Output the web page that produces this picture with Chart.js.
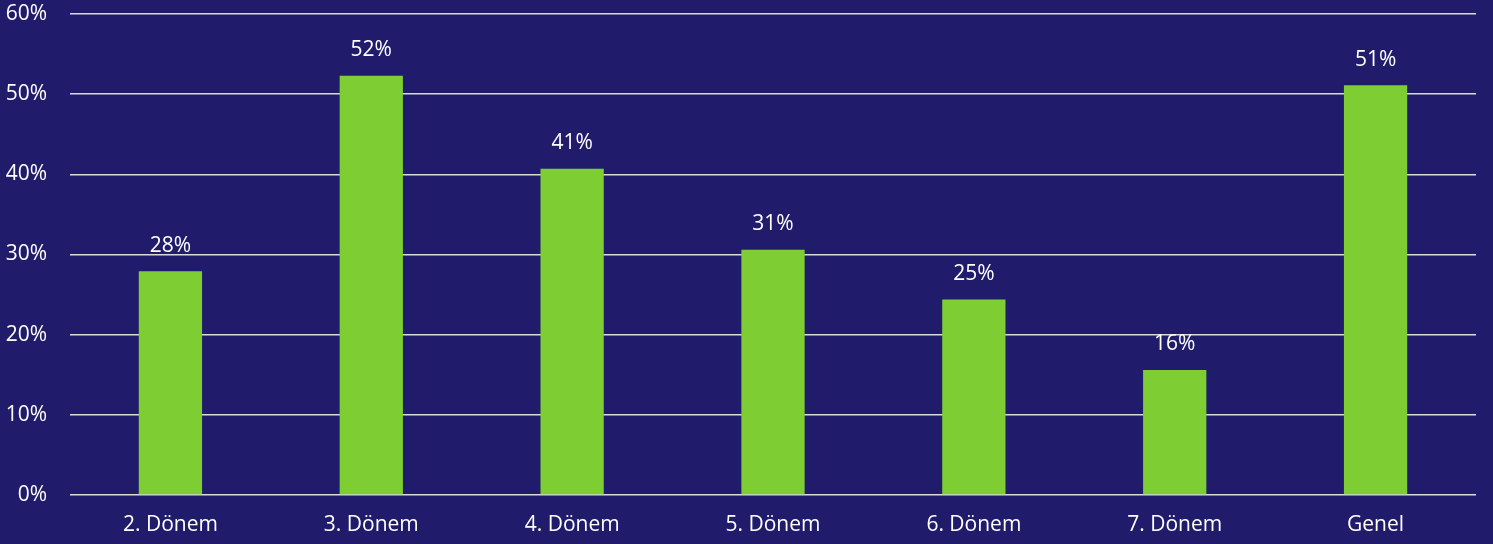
<!DOCTYPE html>
<html><head><meta charset="utf-8">
<script src="https://cdn.jsdelivr.net/npm/chart.js@4.4.1/dist/chart.umd.min.js"></script>
<style>html,body{margin:0;padding:0;background:#201c6b;}#wrap{width:1493px;height:544px;position:relative;}</style>
</head><body><div id="wrap"><canvas id="c" width="1493" height="544"></canvas></div>
<script>
const categories = ["2. Dönem","3. Dönem","4. Dönem","5. Dönem","6. Dönem","7. Dönem","Genel"];
const values = [27.9, 52.3, 40.7, 30.6, 24.4, 15.6, 51.1];
const valueLabels = ["28%","52%","41%","31%","25%","16%","51%"];
const yTicks = [0,10,20,30,40,50,60];

const FONT = "'Open Sans', sans-serif";
const labelPlugin = {
  id: 'vlabels',
  afterDatasetsDraw(chart) {
    const ctx = chart.ctx;
    const meta = chart.getDatasetMeta(0);
    ctx.save();
    ctx.fillStyle = '#ffffff';
    ctx.font = "21px " + FONT;
    ctx.textAlign = 'center';
    ctx.textBaseline = 'bottom';
    meta.data.forEach((bar, i) => {
      ctx.fillText(valueLabels[i], bar.x, bar.y - 15);
    });
    ctx.restore();
  }
};
const bgPlugin = {
  id: 'bg',
  beforeDraw(chart){ const c=chart.ctx; c.save(); c.fillStyle='#201c6b'; c.fillRect(0,0,chart.width,chart.height); c.restore(); }
};

new Chart(document.getElementById('c'), {
  type: 'bar',
  data: { labels: categories, datasets: [{ data: values, backgroundColor: '#7dcd33', borderWidth: 0, categoryPercentage: 1, barPercentage: 0.315 }] },
  options: {
    responsive: false, animation: false,
    layout: { autoPadding: false, padding: { top: 14, right: 17, left: 0, bottom: 0 } },
    plugins: { legend: { display: false }, tooltip: { enabled: false } },
    scales: {
      x: {
        afterFit(scale){ scale.height = 49; scale.paddingLeft = 0; scale.paddingRight = 0; },
        grid: { display: false, drawTicks: false },
        border: { display: false },
        ticks: { color: '#ffffff', font: { family: FONT, size: 21 }, padding: 17, maxRotation: 0 }
      },
      y: {
        min: 0, max: 60,
        afterFit(scale){ scale.width = 70; scale.paddingTop = 0; scale.paddingBottom = 0; },
        afterBuildTicks(scale){ scale.ticks = yTicks.map(v => ({ value: v })); },
        grid: { color: '#d9d9d9', lineWidth: 1.5, drawTicks: false },
        border: { display: false },
        ticks: { color: '#ffffff', font: { family: FONT, size: 21 }, padding: 23, callback: v => v + '%' }
      }
    }
  },
  plugins: [bgPlugin, labelPlugin]
});
</script></body></html>
